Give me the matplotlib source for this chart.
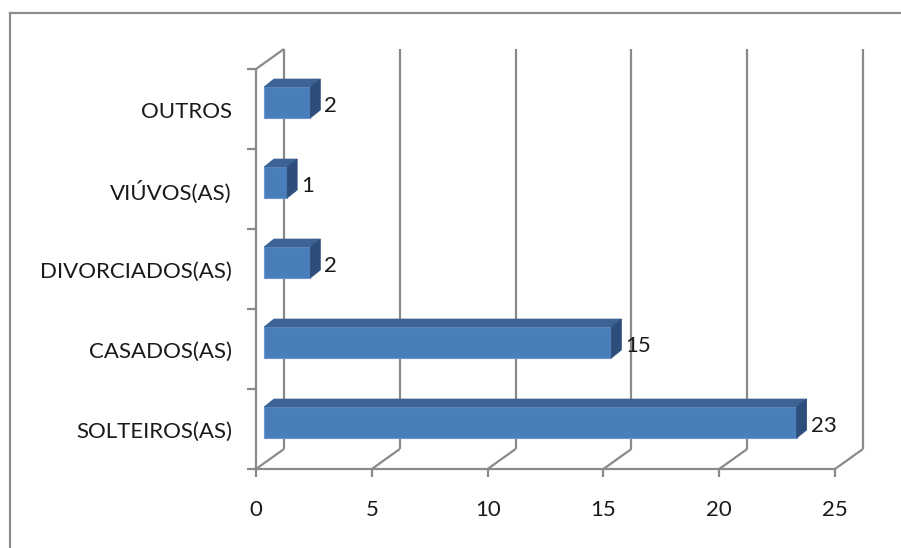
import matplotlib
matplotlib.use("Agg")
import matplotlib.pyplot as plt
from matplotlib.patches import Polygon
from matplotlib.lines import Line2D

categories = ["SOLTEIROS(AS)", "CASADOS(AS)", "DIVORCIADOS(AS)", "VIÚVOS(AS)", "OUTROS"]
values = [23, 15, 2, 1, 2]
x_ticks = [0, 5, 10, 15, 20, 25]

W, H = 901, 548
fig = plt.figure(figsize=(W / 100, H / 100), dpi=100)
plt.rcParams['font.family'] = ['Lato', 'DejaVu Sans']

# front plane pixel frame
x0_px, x1_px = 256, 835
ytop_px, ybot_px = 69, 469
ax = fig.add_axes([x0_px / W, (H - ybot_px) / H, (x1_px - x0_px) / W, (ybot_px - ytop_px) / H])
ax.set_xlim(0, 25)
ax.set_ylim(-0.5, 4.5)
ax.axis('off')

px_x = 25 / (x1_px - x0_px)
px_y = 5 / (ybot_px - ytop_px)

# depth offsets
Dx, Dy = 28 * px_x, 20 * px_y
bx0, by0 = 8 * px_x, 6.5 * px_y
ddx, ddy = 10 * px_x, 8 * px_y
bh = 31 * px_y

grid_c = '#8a8a8a'
lw = 1.6
kw = dict(color=grid_c, lw=lw, clip_on=False, solid_capstyle='butt')

# back wall gridlines and floor diagonals
for t in x_ticks:
    ax.plot([t + Dx, t + Dx], [-0.5 + Dy, 4.5 + Dy], **kw)
    ax.plot([t, t + Dx], [-0.5, -0.5 + Dy], **kw)
    ax.plot([t, t], [-0.5, -0.5 - 8 * px_y], **kw)
# left wall top edge
ax.plot([0, Dx], [4.5, 4.5 + Dy], **kw)
# front axes
ax.plot([0, 25], [-0.5, -0.5], **kw)
ax.plot([0, 0], [-0.5, 4.5], **kw)
for k in range(len(categories) + 1):
    yb = -0.5 + k
    ax.plot([-9 * px_x, 0], [yb, yb], **kw)

front_c = '#4a7ebb'
top_c = '#3b6394'
side_c = '#2d4e7a'
edge_c = '#6d97cc'

for i, (cat, v) in enumerate(zip(categories, values)):
    xl = bx0
    xr = v + bx0
    yb = i + by0 - bh / 2
    yt = i + by0 + bh / 2
    front = Polygon([(xl, yb), (xr, yb), (xr, yt), (xl, yt)], closed=True,
                    facecolor=front_c, edgecolor=edge_c, lw=0.8, clip_on=False, zorder=5)
    top = Polygon([(xl, yt), (xr, yt), (xr + ddx, yt + ddy), (xl + ddx, yt + ddy)], closed=True,
                  facecolor=top_c, edgecolor=top_c, lw=0.5, clip_on=False, zorder=5)
    side = Polygon([(xr, yb), (xr, yt), (xr + ddx, yt + ddy), (xr + ddx, yb + ddy)], closed=True,
                   facecolor=side_c, edgecolor=side_c, lw=0.5, clip_on=False, zorder=5)
    for p in (front, top, side):
        ax.add_patch(p)
    ax.text(xr + ddx + 4 * px_x, i + by0 - 3 * px_y, str(v), ha='left', va='center',
            fontsize=16, color='#1a1a1a', clip_on=False, zorder=6)
    ax.text(-24 * px_x, i - 3 * px_y, cat, ha='right', va='center',
            fontsize=16, color='#1a1a1a', clip_on=False)

for t in x_ticks:
    ax.text(t, -0.5 - 41 * px_y, str(t), ha='center', va='center',
            fontsize=16, color='#1a1a1a', clip_on=False)

# outer chart border (top and left visible)
fig.add_artist(Line2D([10 / W, 10 / W], [0, (H - 13) / H], color='#8c8c8c', lw=1.6,
                      transform=fig.transFigure))
fig.add_artist(Line2D([10 / W, 1], [(H - 13) / H, (H - 13) / H], color='#8c8c8c', lw=1.6,
                      transform=fig.transFigure))

fig.savefig('out.png', dpi=100)
